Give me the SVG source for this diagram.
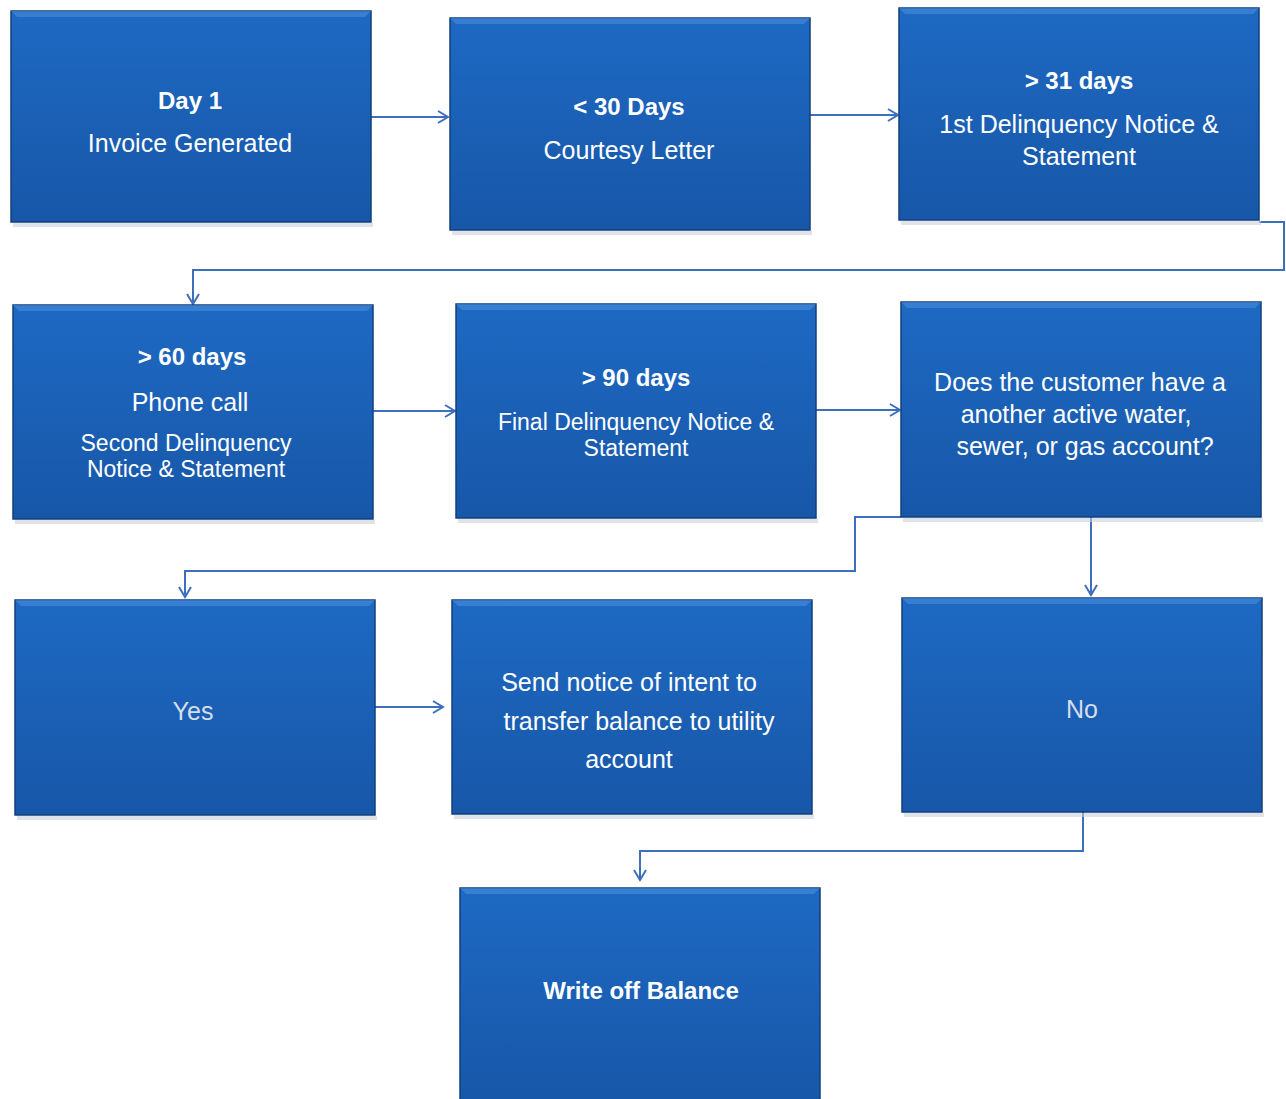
<svg xmlns="http://www.w3.org/2000/svg" width="1286" height="1099" viewBox="0 0 1286 1099">
<style>
.box{fill:url(#g);stroke:#123f7e;stroke-width:1.5}
.hi{fill:#4f8fdc;opacity:0.55}
.sh{fill:#c9cfd8;opacity:0.6}
.t{font-family:"Liberation Sans",Arial,sans-serif;font-size:25px;fill:#ffffff;text-anchor:middle}
.s{font-size:23px}
.b{font-weight:bold;font-size:24px}
.m{fill:#d6deec}
.c{fill:none;stroke:#3d6fbd;stroke-width:2}
</style>
<defs>
<linearGradient id="g" x1="0" y1="0" x2="0" y2="1">
<stop offset="0" stop-color="#1e69c3"/>
<stop offset="1" stop-color="#1757a8"/>
</linearGradient>
<marker id="a" markerWidth="14" markerHeight="14" refX="11" refY="7" orient="auto" markerUnits="userSpaceOnUse">
<path d="M1,1 L11,7 L1,13" fill="none" stroke="#3d6fbd" stroke-width="2"/>
</marker>
</defs>
<rect width="1286" height="1099" fill="#ffffff"/>
<g id="connectors">
<path class="c" d="M371,117 H448" marker-end="url(#a)"/>
<path class="c" d="M810,115 H898" marker-end="url(#a)"/>
<path class="c" d="M1259,222 H1284 V270 H193 V304" marker-end="url(#a)"/>
<path class="c" d="M373,411 H455" marker-end="url(#a)"/>
<path class="c" d="M816,410 H900" marker-end="url(#a)"/>
<path class="c" d="M901,517 H855 V571 H185 V597" marker-end="url(#a)"/>
<path class="c" d="M1091,517 V595" marker-end="url(#a)"/>
<path class="c" d="M375,707 H443" marker-end="url(#a)"/>
<path class="c" d="M1083,812 V851 H640 V880" marker-end="url(#a)"/>
</g>
<g id="n1">
<rect class="sh" x="13" y="223" width="360" height="4"/>
<rect class="box" x="11" y="11" width="360" height="211"/>
<polygon class="hi" points="11,11 371,11 365,17 17,17"/>
<text class="t b" x="190" y="109">Day 1</text>
<text class="t" x="190" y="152">Invoice Generated</text>
</g>
<g id="n2">
<rect class="sh" x="452" y="231" width="360" height="4"/>
<rect class="box" x="450" y="18" width="360" height="212"/>
<polygon class="hi" points="450,18 810,18 804,24 456,24"/>
<text class="t b" x="629" y="115">&lt; 30 Days</text>
<text class="t" x="629" y="159">Courtesy Letter</text>
</g>
<g id="n3">
<rect class="sh" x="901" y="221" width="360" height="4"/>
<rect class="box" x="899" y="8" width="360" height="212"/>
<polygon class="hi" points="899,8 1259,8 1253,14 905,14"/>
<text class="t b" x="1079" y="89">&gt; 31 days</text>
<text class="t" x="1079" y="133">1st Delinquency Notice &amp;</text>
<text class="t" x="1079" y="165">Statement</text>
</g>
<g id="n4">
<rect class="sh" x="15" y="520" width="360" height="4"/>
<rect class="box" x="13" y="305" width="360" height="214"/>
<polygon class="hi" points="13,305 373,305 367,311 19,311"/>
<text class="t b" x="192" y="365">&gt; 60 days</text>
<text class="t" x="190" y="411">Phone call</text>
<text class="t s" x="186" y="451">Second Delinquency</text>
<text class="t s" x="186" y="477">Notice &amp; Statement</text>
</g>
<g id="n5">
<rect class="sh" x="458" y="519" width="360" height="4"/>
<rect class="box" x="456" y="304" width="360" height="214"/>
<polygon class="hi" points="456,304 816,304 810,310 462,310"/>
<text class="t b" x="636" y="386">&gt; 90 days</text>
<text class="t s" x="636" y="430">Final Delinquency Notice &amp;</text>
<text class="t s" x="636" y="456">Statement</text>
</g>
<g id="n6">
<rect class="sh" x="903" y="518" width="360" height="4"/>
<rect class="box" x="901" y="302" width="360" height="215"/>
<polygon class="hi" points="901,302 1261,302 1255,308 907,308"/>
<text class="t" x="1080" y="391">Does the customer have a</text>
<text class="t" x="1076" y="423">another active water,</text>
<text class="t" x="1085" y="455">sewer, or gas account?</text>
</g>
<g id="n7">
<rect class="sh" x="17" y="816" width="360" height="4"/>
<rect class="box" x="15" y="600" width="360" height="215"/>
<polygon class="hi" points="15,600 375,600 369,606 21,606"/>
<text class="t m" x="193" y="720">Yes</text>
</g>
<g id="n8">
<rect class="sh" x="454" y="815" width="360" height="4"/>
<rect class="box" x="452" y="600" width="360" height="214"/>
<polygon class="hi" points="452,600 812,600 806,606 458,606"/>
<text class="t" x="629" y="691">Send notice of intent to</text>
<text class="t" x="639" y="730">transfer balance to utility</text>
<text class="t" x="629" y="768">account</text>
</g>
<g id="n9">
<rect class="sh" x="904" y="813" width="360" height="4"/>
<rect class="box" x="902" y="598" width="360" height="214"/>
<polygon class="hi" points="902,598 1262,598 1256,604 908,604"/>
<text class="t m" x="1082" y="718">No</text>
</g>
<g id="n10">
<rect class="box" x="460" y="888" width="360" height="215"/>
<polygon class="hi" points="460,888 820,888 814,894 466,894"/>
<text class="t b" x="641" y="999">Write off Balance</text>
</g>
</svg>
